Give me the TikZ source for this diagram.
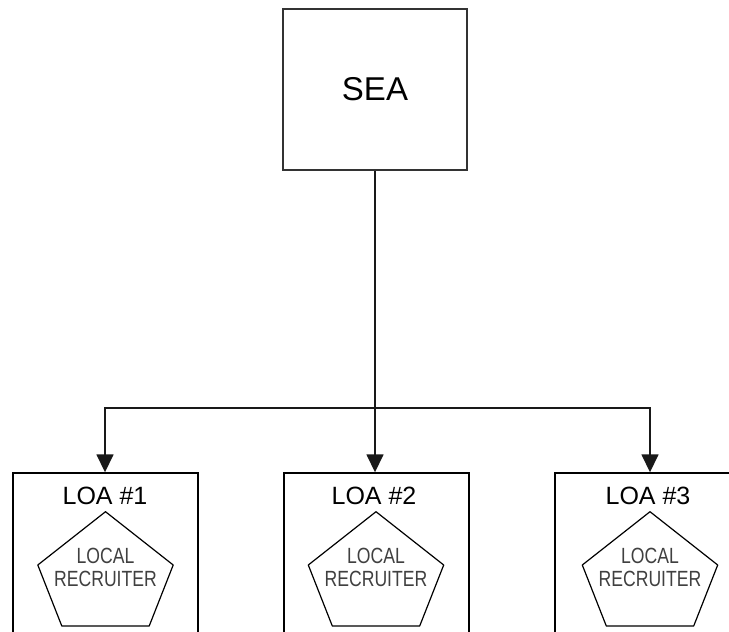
\documentclass[tikz,border=0pt]{standalone}
\usepackage{fontspec}
\setmainfont{Liberation Sans}
\newfontfamily\narrowfont[FakeStretch=0.8]{Liberation Sans}
\usetikzlibrary{arrows.meta}

\begin{document}
\begin{tikzpicture}[x=1pt,y=-1pt,
    link/.style={draw=black!90,line width=1.6pt,-{Triangle[width=17pt,length=18pt]}}]

        \useasboundingbox (0,0) rectangle (729,632);
        \clip (0,0) rectangle (729,632);

        \begin{scope}[every node/.style={draw,line width=1.4pt,inner sep=0pt}]
          \node (sea)  at (375,89.5)    [draw=black!80,minimum width=184pt,minimum height=161pt] {\fontsize{33}{38}\selectfont SEA};
          \node (loa1) at (105.5,566.5) [minimum width=185pt,minimum height=187pt] {};
          \node (loa2) at (376.5,566.5) [minimum width=185pt,minimum height=187pt] {};
          \node (loa3) at (665,566.5)   [minimum width=220pt,minimum height=187pt] {};
        \end{scope}

        \begin{scope}[every node/.style={inner sep=0pt,font=\fontsize{25}{30}\selectfont}]
          \node (t1) at (105,496) {LOA \#1};
          \node (t2) at (374,496) {LOA \#2};
          \node (t3) at (648,496) {LOA \#3};
        \end{scope}

        \begin{scope}[every node/.style={align=center,inner sep=0pt,text=black!75,
            font=\narrowfont\fontsize{22}{22.7}\selectfont}]
          \node (rec1) at (105.5,567.4) {LOCAL\\RECRUITER};
          \node (rec2) at (376,567.4)   {LOCAL\\RECRUITER};
          \node (rec3) at (650,567.4)   {LOCAL\\RECRUITER};
        \end{scope}

        % pentagons round the recruiters
        \foreach \n in {1,2,3}
          \draw[line width=1.2pt,line join=round]
            ([shift={(0,-55.7)}]rec\n.center) -- ([shift={(67.7,-2.4)}]rec\n.center)
            -- ([shift={(43.7,58.6)}]rec\n.center) -- ([shift={(-43.7,58.6)}]rec\n.center)
            -- ([shift={(-67.7,-2.4)}]rec\n.center) -- cycle;

        \coordinate (bus) at (sea.south |- 0,408);

        \draw[link] (sea.south) -- (sea.south |- loa2.north);
        \draw[link] (bus) -| (t1.center |- loa1.north);
        \draw[link] (bus) -| (rec3.center |- loa3.north);

      \end{tikzpicture}
\end{document}
